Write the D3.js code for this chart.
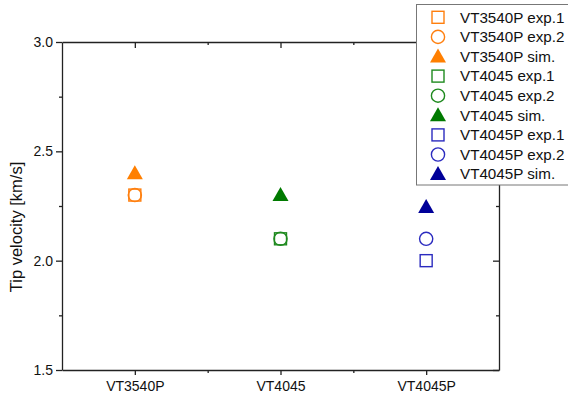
<!DOCTYPE html>
<html>
<head>
<meta charset="utf-8">
<script src="https://cdn.jsdelivr.net/npm/d3@7"></script>
<style>
  body { margin: 0; background: #fff; }
  text { font-family: "Liberation Sans", Arial, sans-serif; }
</style>
</head>
<body>
<div id="chart"></div>
<script>
// категории по оси x
const categories = ['VT3540P', 'VT4045', 'VT4045P']
// серии: одна точка на серию
const seriesNames = [
  'VT3540P exp.1', 'VT3540P exp.2', 'VT3540P sim.',
  'VT4045 exp.1', 'VT4045 exp.2', 'VT4045 sim.',
  'VT4045P exp.1', 'VT4045P exp.2', 'VT4045P sim.'
]
const seriesCat = [0, 0, 0, 1, 1, 1, 2, 2, 2]
const seriesValues = [2.3, 2.3, 2.4, 2.1, 2.1, 2.3, 2.0, 2.1, 2.245]
const seriesShape = ['square', 'circle', 'triangle', 'square', 'circle', 'triangle', 'square', 'circle', 'triangle']
const seriesColor = ['#ff7f0e', '#ff7f0e', '#ff7f00', '#1f8a1f', '#1f8a1f', '#007a00', '#2b2bbf', '#2b2bbf', '#000099']
const yTicks = [1.5, 2.0, 2.5, 3.0]
const yMinor = [1.75, 2.25, 2.75]

const W = 568, H = 396
const pL = 62, pR = 499, pT = 42, pB = 370

const svg = d3.select('#chart').append('svg')
  .attr('width', W).attr('height', H)

const x = d3.scaleLinear().domain([0.5, 3.5]).range([pL, pR])
const y = d3.scaleLinear().domain([1.5, 3.0]).range([pB, pT])

// оси
const axisStyle = g => g.selectAll('line,path').attr('stroke', '#222').attr('stroke-width', 1.3)

svg.append('g').attr('transform', `translate(0,${pB})`)
  .call(d3.axisBottom(x).tickValues([1, 2, 3]).tickSize(5).tickSizeOuter(0).tickFormat(d => categories[d - 1]))
  .call(axisStyle)
  .call(g => g.selectAll('text').attr('font-size', 14).attr('fill', '#111').attr('dy', '0.95em'))
svg.append('g').attr('transform', `translate(0,${pB})`)
  .call(d3.axisBottom(x).tickValues([1.5, 2.5]).tickSize(3).tickFormat(''))
  .call(axisStyle).call(g => g.select('path').remove())

svg.append('g').attr('transform', `translate(${pL},0)`)
  .call(d3.axisLeft(y).tickValues(yTicks).tickSize(6).tickSizeOuter(0).tickFormat(d3.format('.1f')))
  .call(axisStyle)
  .call(g => g.selectAll('text').attr('font-size', 14).attr('fill', '#111'))
svg.append('g').attr('transform', `translate(${pL},0)`)
  .call(d3.axisLeft(y).tickValues(yMinor).tickSize(3).tickFormat(''))
  .call(axisStyle).call(g => g.select('path').remove())

// верх и право, тики внутрь
svg.append('g').attr('transform', `translate(0,${pT})`)
  .call(d3.axisBottom(x).tickValues([1, 2, 3]).tickSize(6).tickSizeOuter(0).tickFormat(''))
  .call(axisStyle)
svg.append('g').attr('transform', `translate(0,${pT})`)
  .call(d3.axisBottom(x).tickValues([1.5, 2.5]).tickSize(3).tickFormat(''))
  .call(axisStyle).call(g => g.select('path').remove())
svg.append('g').attr('transform', `translate(${pR},0)`)
  .call(d3.axisLeft(y).tickValues(yTicks).tickSize(6).tickSizeOuter(0).tickFormat(''))
  .call(axisStyle)
svg.append('g').attr('transform', `translate(${pR},0)`)
  .call(d3.axisLeft(y).tickValues(yMinor).tickSize(3).tickFormat(''))
  .call(axisStyle).call(g => g.select('path').remove())

svg.append('text')
  .attr('transform', 'translate(22,227) rotate(-90)')
  .attr('text-anchor', 'middle')
  .attr('font-size', 16.5).attr('fill', '#111')
  .text('Tip velocity [km/s]')

// маркер
function drawMarker(g, shape, color, cx, cy) {
  if (shape === 'square') {
    g.append('rect').attr('x', cx - 6).attr('y', cy - 6).attr('width', 12).attr('height', 12)
      .attr('fill', 'none').attr('stroke', color).attr('stroke-width', 1.4)
  } else if (shape === 'circle') {
    g.append('circle').attr('cx', cx).attr('cy', cy).attr('r', 6.6)
      .attr('fill', 'none').attr('stroke', color).attr('stroke-width', 1.4)
  } else {
    g.append('path')
      .attr('d', `M${cx - 8},${cy + 6}L${cx + 8},${cy + 6}L${cx},${cy - 8}Z`)
      .attr('fill', color)
  }
}

const pts = svg.append('g')
seriesNames.forEach((n, i) => {
  drawMarker(pts, seriesShape[i], seriesColor[i], x(seriesCat[i] + 1), y(seriesValues[i]))
})

// легенда
const leg = svg.append('g')
leg.append('rect').attr('x', 416.5).attr('y', 4.5).attr('width', 160).attr('height', 180.5)
  .attr('fill', '#fff').attr('stroke', '#777').attr('stroke-width', 1)
seriesNames.forEach((n, i) => {
  const ly = 17.3 + i * 19.6
  drawMarker(leg, seriesShape[i], seriesColor[i], 438, ly)
  leg.append('text').attr('x', 460).attr('y', ly + 5.3)
    .attr('font-size', 15.2).attr('fill', '#111').text(n)
})
</script>
</body>
</html>
